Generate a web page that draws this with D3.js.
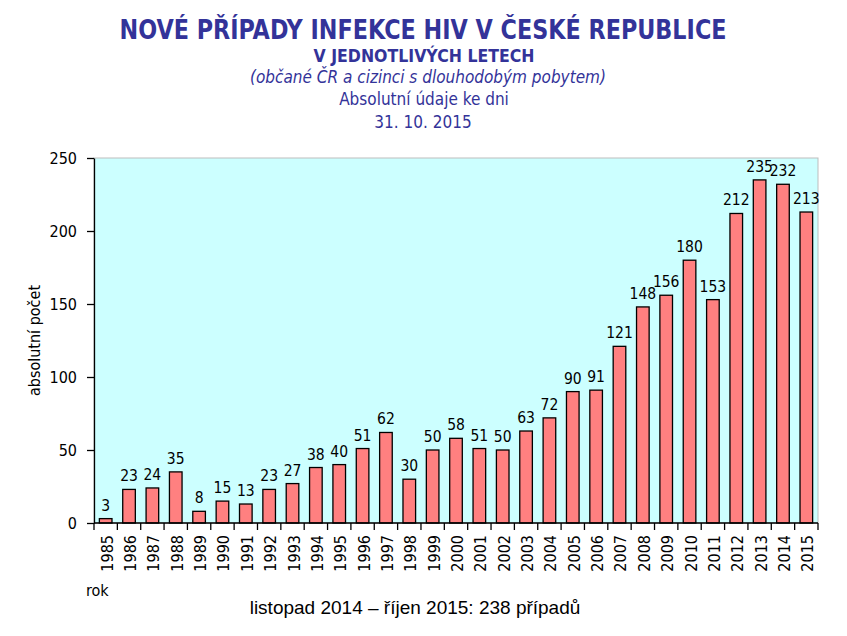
<!DOCTYPE html>
<html><head><meta charset="utf-8">
<script src="https://cdn.jsdelivr.net/npm/d3@7"></script>
<style>body{margin:0;background:#fff}</style>
</head><body>
<script>
const years = ["1985","1986","1987","1988","1989","1990","1991","1992","1993","1994","1995","1996","1997","1998","1999","2000","2001","2002","2003","2004","2005","2006","2007","2008","2009","2010","2011","2012","2013","2014","2015"];
const cases = [3,23,24,35,8,15,13,23,27,38,40,51,62,30,50,58,51,50,63,72,90,91,121,148,156,180,153,212,235,232,213];
const yTicks = [0,50,100,150,200,250];

const W=847,H=636;
const m={l:94,r:29,t:158,b:113};
const svg=d3.select("body").append("svg").attr("width",W).attr("height",H);
const x=d3.scaleBand().domain(years).range([m.l,W-m.r]).paddingInner(0.46).paddingOuter(0.23);
const y=d3.scaleLinear().domain([0,250]).range([H-m.b,m.t]);
const cond="'DejaVu Sans Condensed',sans-serif";
const blue="#333399";

svg.append("rect").attr("x",m.l).attr("y",m.t).attr("width",W-m.r-m.l).attr("height",H-m.b-m.t)
  .attr("fill","#ccffff").attr("stroke","#bdbdbd");

svg.selectAll(".bar").data(cases).join("rect")
  .attr("x",(d,i)=>x(years[i])).attr("width",x.bandwidth())
  .attr("y",d=>y(d)).attr("height",d=>y(0)-y(d))
  .attr("fill","#ff8080").attr("stroke","#000").attr("stroke-width",1.3);

svg.selectAll(".lbl").data(cases).join("text")
  .attr("x",(d,i)=>x(years[i])+x.bandwidth()/2).attr("y",d=>y(d)-8)
  .attr("text-anchor","middle").attr("font-family",cond)
  .attr("font-size",15.5).attr("fill","#000").text(d=>d);

// y axis
const ya=svg.append("g").attr("transform",`translate(${m.l},0)`)
  .call(d3.axisLeft(y).tickValues(yTicks).tickSize(7).tickSizeOuter(0));
ya.select(".domain").attr("stroke","#000").attr("stroke-width",1.3);
ya.selectAll("line").attr("stroke","#000").attr("stroke-width",1.3);
ya.selectAll("text").attr("font-family",cond).attr("font-size",16).attr("fill","#000").attr("dx",-7);

// x axis with ticks at band boundaries
const xa=svg.append("g").attr("transform",`translate(0,${H-m.b})`);
xa.append("line").attr("x1",m.l).attr("x2",W-m.r).attr("stroke","#000").attr("stroke-width",1.3);
const bounds=d3.range(years.length+1).map(i=>m.l+i*(W-m.r-m.l)/years.length);
xa.selectAll(".tk").data(bounds).join("line").attr("x1",d=>d).attr("x2",d=>d).attr("y1",0).attr("y2",7)
  .attr("stroke","#000").attr("stroke-width",1.3);
xa.selectAll(".yl").data(years).join("text")
  .attr("transform",(d)=>`translate(${x(d)+x.bandwidth()/2+7},12) rotate(-90)`)
  .attr("text-anchor","end").attr("font-family",cond).attr("font-size",16).attr("fill","#000").text(d=>d);

svg.append("text").attr("transform",`translate(40,${(m.t+H-m.b)/2}) rotate(-90)`).attr("text-anchor","middle")
  .attr("font-family",cond).attr("font-size",16).text("absolutní počet");
svg.append("text").attr("x",86).attr("y",596).attr("font-family",cond).attr("font-size",16).text("rok");
svg.append("text").attr("x",415).attr("y",614).attr("text-anchor","middle")
  .attr("font-family","'Liberation Sans',Arial,sans-serif").attr("font-size",19).text("listopad 2014 – říjen 2015: 238 případů");

// titles
const t=svg.append("g").attr("fill",blue).attr("text-anchor","middle");
t.append("text").attr("x",423).attr("y",39).attr("font-family",cond).attr("font-weight","bold").attr("font-size",27)
  .attr("textLength",607).attr("lengthAdjust","spacingAndGlyphs").text("NOVÉ PŘÍPADY INFEKCE HIV V ČESKÉ REPUBLICE");
t.append("text").attr("x",424).attr("y",62).attr("font-family",cond).attr("font-weight","bold").attr("font-size",17)
  .attr("textLength",221).attr("lengthAdjust","spacingAndGlyphs").text("V JEDNOTLIVÝCH LETECH");
t.append("text").attr("x",428).attr("y",83).attr("font-family",cond).attr("font-style","italic").attr("font-size",17).text("(občané ČR a cizinci s dlouhodobým pobytem)");
t.append("text").attr("x",424).attr("y",105).attr("font-family",cond).attr("font-size",17).text("Absolutní údaje ke dni");
t.append("text").attr("x",423).attr("y",128).attr("font-family",cond).attr("font-size",17).text("31. 10. 2015");
</script>
</body></html>
